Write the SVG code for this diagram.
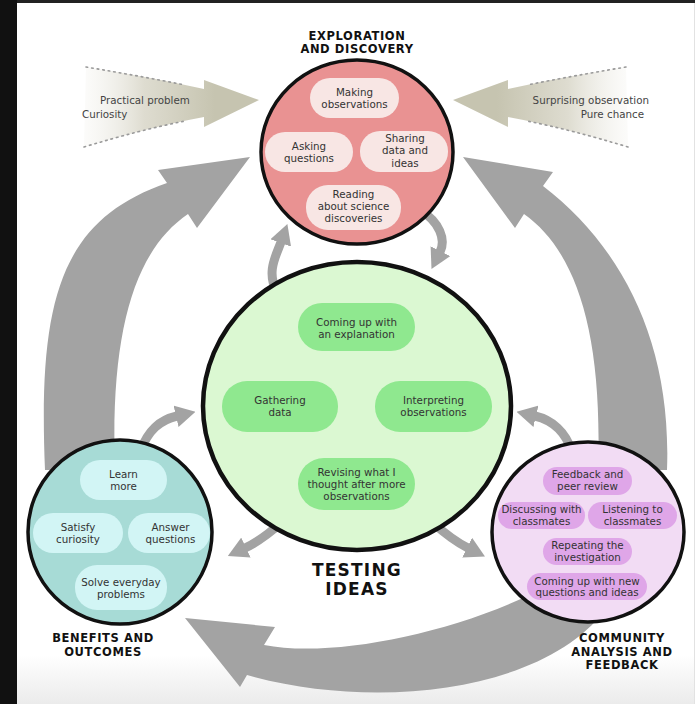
<svg xmlns="http://www.w3.org/2000/svg" width="695" height="704" viewBox="0 0 695 704">
<defs>
<style>
.t{font-family:"DejaVu Sans",Verdana,sans-serif;font-size:10.3px;fill:#333;text-anchor:middle}
.s{font-family:"DejaVu Sans",Verdana,sans-serif;font-size:10.3px;fill:#444}
.h{font-family:"DejaVu Sans",Verdana,sans-serif;font-size:11.5px;font-weight:bold;fill:#111;text-anchor:middle;letter-spacing:0.6px}
.big{fill:#a3a3a3}
.sm{fill:none;stroke:#a3a3a3;stroke-width:9;marker-end:url(#ah)}
.ring{stroke:#111;stroke-width:3.5}
.pk{fill:#f8e6e4}.gr{fill:#8fe88f}.tl{fill:#d2f5f5}.pu{fill:#dfa6e8}
.dots{fill:none;stroke:#9a9a9a;stroke-width:1.6;stroke-dasharray:1.6 4;stroke-linecap:round}
</style>
<linearGradient id="beige" x1="86" y1="0" x2="215" y2="0" gradientUnits="userSpaceOnUse">
<stop offset="0" stop-color="#f2f1ec" stop-opacity="0.3"/>
<stop offset="0.45" stop-color="#dedcd0"/>
<stop offset="1" stop-color="#c6c4b0"/>
</linearGradient>
<linearGradient id="floor" x1="0" y1="655" x2="0" y2="704" gradientUnits="userSpaceOnUse">
<stop offset="0" stop-color="#ffffff"/>
<stop offset="1" stop-color="#ebebeb"/>
</linearGradient>
<marker id="ah" markerUnits="userSpaceOnUse" viewBox="0 0 20 22" markerWidth="20" markerHeight="22" refX="1" refY="11" orient="auto">
<path d="M0,0 L20,11 L0,22 Z" fill="#a3a3a3"/>
</marker>
</defs>

<g id="background">
<rect x="0" y="0" width="695" height="704" fill="#ffffff"/>
<rect x="0" y="655" width="695" height="49" fill="url(#floor)"/>
<rect x="0" y="0" width="17" height="704" fill="#111111"/>
<rect x="17" y="0" width="678" height="3" fill="#222222"/>
<line x1="694.5" y1="3" x2="694.5" y2="704" stroke="#e2e2e2" stroke-width="1"/>
</g>

<g id="connectors">
<path class="big" d="M45,470 C38,300 60,220 167,183 L158,170 L250,157 L197,228 L188,214 C135,250 110,330 115,470 Z"/>
<path class="big" d="M667,470 C672,340 620,245 543,186 L553,172 L463,157 L515,228 L524,214 C575,250 603,330 598,470 Z"/>
<path class="big" d="M540,590 C450,635 330,658 264,645 L275,627 L185,618 L240,687 L247,675 C380,712 545,690 605,610 Z"/>
<path class="sm" d="M277,292 C266,272 276,256 281,242"/>
<path class="sm" d="M420,210 C440,222 446,240 440,252"/>
<path class="sm" d="M282,522 Q262,540 245,548"/>
<path class="sm" d="M432,522 Q452,540 468,548"/>
<path class="sm" d="M140,452 C148,430 160,420 177,416"/>
<path class="sm" d="M572,452 C566,432 552,420 535,416"/>
</g>

<g id="input-left">
<path d="M86,67 Q150,77 204,89 L204,80 L259,100 L204,127 L204,117 Q150,127 84,147 Z" fill="url(#beige)"/>
<path class="dots" d="M86,67 Q140,76 185,85"/>
<path class="dots" d="M84,147 Q140,130 185,121"/>
<text class="s" x="100" y="103.5">Practical problem</text>
<text class="s" x="82" y="118">Curiosity</text>
</g>

<g id="input-right">
<g transform="matrix(-1 0 0 1 712 0)">
<path d="M86,67 Q150,77 204,89 L204,80 L259,100 L204,127 L204,117 Q150,127 84,147 Z" fill="url(#beige)"/>
<path class="dots" d="M86,67 Q140,76 185,85"/>
<path class="dots" d="M84,147 Q140,130 185,121"/>
</g>
<text class="s" x="649" y="103.5" text-anchor="end">Surprising observation</text>
<text class="s" x="644" y="118" text-anchor="end">Pure chance</text>
</g>

<g id="exploration">
<text class="h"><tspan x="357" y="39.5">EXPLORATION</tspan><tspan x="357" y="53">AND DISCOVERY</tspan></text>
<ellipse class="ring" cx="357" cy="152" rx="96" ry="92" fill="#e99292"/>
<rect class="pk" x="310" y="78" width="89" height="40" rx="20"/>
<text class="t"><tspan x="354.5" y="95.5">Making</tspan><tspan x="354.5" y="107.5">observations</tspan></text>
<rect class="pk" x="265" y="132" width="88" height="40" rx="20"/>
<text class="t"><tspan x="309" y="149.5">Asking</tspan><tspan x="309" y="161.5">questions</tspan></text>
<rect class="pk" x="360" y="131" width="88" height="41" rx="20"/>
<text class="t"><tspan x="405" y="141.5">Sharing</tspan><tspan x="405" y="154">data and</tspan><tspan x="405" y="166.5">ideas</tspan></text>
<rect class="pk" x="306" y="185" width="95" height="45" rx="22"/>
<text class="t"><tspan x="353.5" y="197.5">Reading</tspan><tspan x="353.5" y="209.5">about science</tspan><tspan x="353.5" y="221.5">discoveries</tspan></text>
</g>

<g id="testing">
<ellipse cx="357" cy="406" rx="154" ry="144" fill="#dbf8d2" stroke="#111" stroke-width="4.5"/>
<rect class="gr" x="298" y="303" width="117" height="48" rx="24"/>
<text class="t"><tspan x="356.5" y="325.5">Coming up with</tspan><tspan x="356.5" y="337.5">an explanation</tspan></text>
<rect class="gr" x="222" y="381" width="116" height="51" rx="25"/>
<text class="t"><tspan x="280" y="403.5">Gathering</tspan><tspan x="280" y="415.5">data</tspan></text>
<rect class="gr" x="375" y="381" width="117" height="51" rx="25"/>
<text class="t"><tspan x="433.5" y="403.5">Interpreting</tspan><tspan x="433.5" y="415.5">observations</tspan></text>
<rect class="gr" x="298" y="458" width="117" height="52" rx="26"/>
<text class="t"><tspan x="356.5" y="475.5">Revising what I</tspan><tspan x="356.5" y="487.5">thought after more</tspan><tspan x="356.5" y="499.5">observations</tspan></text>
<text class="h" style="font-size:17px;letter-spacing:1.2px"><tspan x="357" y="575.5">TESTING</tspan><tspan x="357" y="595">IDEAS</tspan></text>
</g>

<g id="benefits">
<circle class="ring" cx="120" cy="532" r="92" fill="#a7dbd6"/>
<rect class="tl" x="80" y="460" width="87" height="40" rx="20"/>
<text class="t"><tspan x="123.5" y="477.5">Learn</tspan><tspan x="123.5" y="489.5">more</tspan></text>
<rect class="tl" x="33" y="513" width="90" height="40" rx="20"/>
<text class="t"><tspan x="78" y="530.5">Satisfy</tspan><tspan x="78" y="542.5">curiosity</tspan></text>
<rect class="tl" x="128" y="513" width="82" height="40" rx="20"/>
<text class="t"><tspan x="170.5" y="530.5">Answer</tspan><tspan x="170.5" y="542.5">questions</tspan></text>
<rect class="tl" x="75" y="565" width="92" height="45" rx="22"/>
<text class="t"><tspan x="121" y="585.5">Solve everyday</tspan><tspan x="121" y="597.5">problems</tspan></text>
<text class="h"><tspan x="103" y="642">BENEFITS AND</tspan><tspan x="103" y="655.5">OUTCOMES</tspan></text>
</g>

<g id="community">
<ellipse class="ring" cx="588" cy="532" rx="96" ry="90" fill="#f2dcf4"/>
<rect class="pu" x="543" y="467" width="89" height="28" rx="14"/>
<text class="t"><tspan x="587.5" y="477.5">Feedback and</tspan><tspan x="587.5" y="489.5">peer review</tspan></text>
<rect class="pu" x="498" y="502" width="87" height="27" rx="13.5"/>
<text class="t"><tspan x="541.5" y="512.5">Discussing with</tspan><tspan x="541.5" y="524.5">classmates</tspan></text>
<rect class="pu" x="588" y="502" width="89" height="27" rx="13.5"/>
<text class="t"><tspan x="632.5" y="512.5">Listening to</tspan><tspan x="632.5" y="524.5">classmates</tspan></text>
<rect class="pu" x="543" y="538" width="89" height="27" rx="13.5"/>
<text class="t"><tspan x="587.5" y="548.5">Repeating the</tspan><tspan x="587.5" y="560.5">investigation</tspan></text>
<rect class="pu" x="527" y="573" width="120" height="27" rx="13.5"/>
<text class="t"><tspan x="587" y="584.5">Coming up with new</tspan><tspan x="587" y="596">questions and ideas</tspan></text>
<text class="h"><tspan x="622" y="642">COMMUNITY</tspan><tspan x="622" y="655.5">ANALYSIS AND</tspan><tspan x="622" y="669">FEEDBACK</tspan></text>
</g>
</svg>
